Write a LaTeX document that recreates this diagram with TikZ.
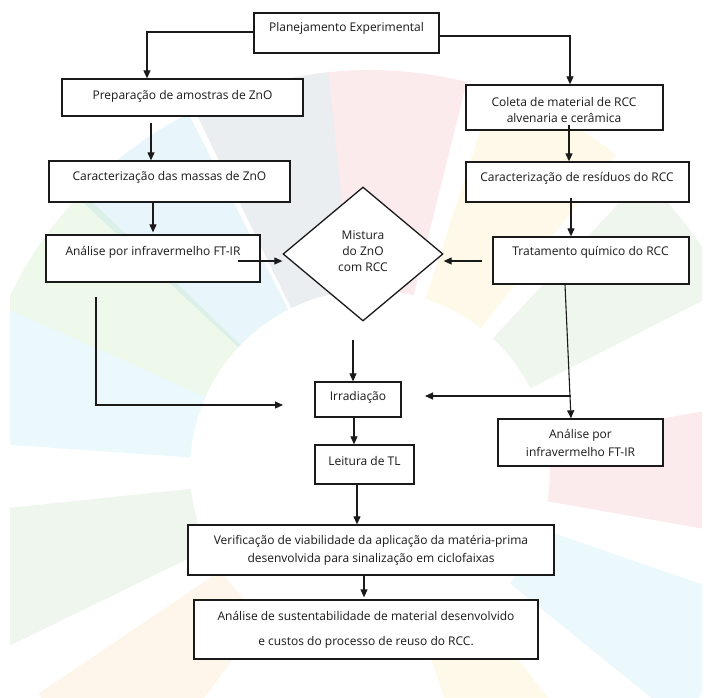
\documentclass[tikz,border=0pt]{standalone}
\usepackage{fontspec}
\setmainfont{Open Sans}
\usetikzlibrary{arrows.meta,shapes.geometric,calc}
\definecolor{ink}{HTML}{1A1A1A}
\definecolor{sdgred}{HTML}{E5243B}
\definecolor{sdgyel}{HTML}{FCC30B}
\definecolor{sdggrn}{HTML}{56C02B}
\definecolor{sdgdgr}{HTML}{4C9F38}
\definecolor{sdgblu}{HTML}{0A97D9}
\definecolor{sdgcya}{HTML}{26BDE2}
\definecolor{sdgnav}{HTML}{19486A}
\definecolor{sdgora}{HTML}{FD9D24}
\begin{document}
\begin{tikzpicture}[x=1pt,y=-1pt,
  box/.style={draw=ink, line width=1.3pt, fill=white, inner sep=0pt},
  lbl/.style={inner sep=0pt, text=ink, align=center, font=\fontsize{12}{17}\selectfont},
  conn/.style={line width=1.1pt, draw=ink},
  arr/.style={conn, -{Triangle[length=8pt,width=7pt]}},
  seg/.style={opacity=0.09}]
\useasboundingbox (0,0) rectangle (710,697);
\fill[white] (0,0) rectangle (710,697);
% faint watermark wheel
\begin{scope}
\clip (10,0) rectangle (702,697);
\foreach \a/\c in {-86/sdgred,-106/sdgnav,-127/sdgblu,-146/sdggrn,-166/sdgcya,164/sdgdgr,136/sdgora,62/sdgyel,29/sdgcya,0/sdgred,-37/sdgdgr,-62/sdgyel}{
  \fill[\c,seg] plot[domain=\a-10:\a+10,samples=12] ({370+400*cos(\x)},{470+400*sin(\x)})
     -- plot[domain=\a+10:\a-10,samples=12] ({370+180*cos(\x)},{470+180*sin(\x)}) -- cycle;
}
\end{scope}
% boxes
\node[box, minimum width=185pt, minimum height=40pt] (plan) at (346.5,33) {};
\node[box, minimum width=241pt, minimum height=37pt] (prep) at (182.5,97.5) {};
\node[box, minimum width=197pt, minimum height=45pt] (coleta) at (564.5,107.5) {};
\node[box, minimum width=241pt, minimum height=41pt] (carZnO) at (169.5,181.5) {};
\node[box, minimum width=223pt, minimum height=40pt] (carRCC) at (577.5,182) {};
\node[box, minimum width=214pt, minimum height=47pt] (ftirL) at (153,258.5) {};
\node[box, minimum width=196pt, minimum height=47pt] (trat) at (591,260.5) {};
\node[box, shape=diamond, minimum width=160pt, minimum height=134pt] (mix) at (363,254) {};
\node[box, minimum width=86pt, minimum height=35pt] (irr) at (358,399.5) {};
\node[box, minimum width=165pt, minimum height=47pt] (ftirR) at (580.5,442.5) {};
\node[box, minimum width=99pt, minimum height=39pt] (leit) at (364.5,464.5) {};
\node[box, minimum width=366pt, minimum height=50pt] (verif) at (371,550) {};
\node[box, minimum width=344pt, minimum height=59pt] (sust) at (366,629.5) {};
% texts
\node[lbl] (planT) at (346.5,28) {Planejamento Experimental};
\node[lbl] (prepT) at (182.5,96) {Preparação de amostras de ZnO};
\node[lbl, font=\fontsize{12}{16}\selectfont] (coletaT) at (564,110) {Coleta de material de RCC\\alvenaria e cerâmica};
\node[lbl] (carZnOT) at (169.5,177) {Caracterização das massas de ZnO};
\node[lbl] (carRCCT) at (577,178) {Caracterização de resíduos do RCC};
\node[lbl] (ftirLT) at (153,252) {Análise por infravermelho FT-IR};
\node[lbl] (tratT) at (590.5,252) {Tratamento químico do RCC};
\node[lbl, font=\fontsize{12}{16}\selectfont] (mixT) at (363,251) {Mistura\\do ZnO\\com RCC};
\node[lbl] (irrT) at (358,397) {Irradiação};
\node[lbl, font=\fontsize{12}{18}\selectfont] (ftirRT) at (580.5,443) {Análise por\\infravermelho FT-IR};
\node[lbl] (leitT) at (364.5,461) {Leitura de TL};
\node[lbl, font=\fontsize{12}{18}\selectfont] (verifT) at (371,550) {Verificação de viabilidade da aplicação da matéria-prima\\desenvolvida para sinalização em ciclofaixas};
\node[lbl, font=\fontsize{12}{25}\selectfont] (sustT) at (366,629.5) {Análise de sustentabilidade de material desenvolvido\\e custos do processo de reuso do RCC.};
% connectors
\coordinate (pL) at (147,0);
\coordinate (pR) at (570,0);
\draw[arr] ($(plan.west)+(0,-1)$) -| (pL |- prep.north);
\draw[arr] ($(plan.east)+(0,3)$) -| (pR |- coleta.north);
\coordinate (c1) at (151,123);
\draw[arr] (c1) -- (c1 |- carZnO.north);
\coordinate (d1) at (569,0);
\draw[arr] ($(d1 |- coleta.south)+(0,-6)$) -- (d1 |- carRCC.north);
\coordinate (e1) at (153,0);
\draw[arr] (e1 |- carZnO.south) -- ($(e1 |- ftirL.north)+(0,-2)$);
\coordinate (f1) at (571,0);
\draw[arr] ($(f1 |- carRCC.south)+(0,-5)$) -- (f1 |- trat.north);
\coordinate (g1) at (238,261);
\draw[arr] (g1) -- (g1 -| mix.west);
\coordinate (h1) at (482,261);
\draw[arr] (h1) -- (h1 -| mix.east);
\coordinate (i1) at (96,297);
\coordinate (i2) at (283,405);
\draw[arr] (i1) |- (i2);
\coordinate (j1) at (353,340);
\draw[arr] (j1) -- (j1 |- irr.north);
\coordinate (k2) at (571,0);
\draw[arr] ($(trat.south)+(-26,0)$) -- (k2 |- ftirR.north);
\coordinate (l1) at (571,396);
\coordinate (l2) at (425,396);
\draw[arr] (l1) -- (l2);
\coordinate (m1) at (354,0);
\draw[arr] (m1 |- irr.south) -- (m1 |- leit.north);
\coordinate (n1) at (357,0);
\draw[arr] (n1 |- leit.south) -- (n1 |- verif.north);
\coordinate (o1) at (364,0);
\draw[arr] (o1 |- verif.south) -- ($(o1 |- sust.north)+(0,-2)$);
\end{tikzpicture}
\end{document}
